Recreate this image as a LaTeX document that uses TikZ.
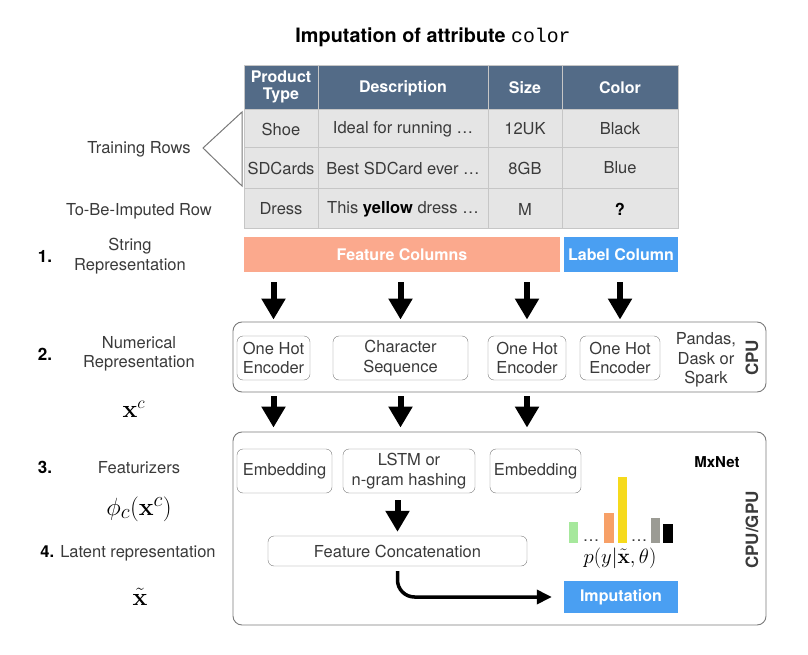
\documentclass[tikz,border=0pt]{standalone}
\usepackage{amsmath,amssymb}
\usepackage[no-math]{fontspec}
\setmainfont{TeX Gyre Heros}
\setmonofont{Liberation Mono}
\usetikzlibrary{arrows.meta,calc,positioning}

\definecolor{hdr}{HTML}{536B87}
\definecolor{cellgray}{HTML}{E5E5E5}
\definecolor{cellline}{HTML}{C6C6C6}
\definecolor{salmon}{HTML}{FBA98D}
\definecolor{skyblue}{HTML}{4A9FF2}
\definecolor{boxline}{HTML}{7A7A7A}
\definecolor{txtgray}{HTML}{3A3A3A}
\definecolor{bargreen}{HTML}{A6E89C}
\definecolor{barorange}{HTML}{F7A067}
\definecolor{baryellow}{HTML}{F6DA1C}
\definecolor{bargray}{HTML}{9B9B94}

\tikzset{
  lbl/.style={font=\fontsize{16.5}{19.5}\selectfont, text=txtgray, align=center},
  num/.style={font=\fontsize{17}{19}\selectfont\bfseries, text=black},
  cell/.style={lbl, text=txtgray},
  hcell/.style={font=\fontsize{16}{17}\selectfont\bfseries, text=white, align=center},
  mathlbl/.style={font=\fontsize{24}{28}\selectfont, inner sep=1pt},
  inbox/.style={lbl, draw=boxline, rounded corners=6pt, minimum height=44pt, inner sep=0pt},
  outbox/.style={draw=boxline, rounded corners=9pt, line width=0.9pt, inner sep=0pt},
  colbar/.style={font=\fontsize{16}{19}\selectfont\bfseries, text=white, minimum height=35pt, inner sep=0pt},
  fatarrow/.style={line width=6pt, -{Triangle[width=23pt,length=21pt]}},
}

\begin{document}
\begin{tikzpicture}[x=1pt, y=-1pt]
    \useasboundingbox(0,0)rectangle(808,655);
    % title
    \node[font=\fontsize{19.8}{22}\selectfont](title)at(433,37){\textbf{Imputation of attribute} \texttt{color}};
    % table
    \path[fill=hdr](244,65)rectangle(678,109);
    \path[fill=cellgray](244,109)rectangle(678,228);
    \foreach \y in {109,147,188} \path[draw=cellline](244,\y)to(678,\y);
    \foreach \x in {318,488,562} \path[draw=cellline](\x,65)to(\x,228);
    \path[draw=cellline](244,65)rectangle(678,228);
    % header
    \node[hcell](hType)at(281,87){Product\\Type};
    \node[hcell](hDesc)at(403,88){Description};
    \node[hcell](hSize)at(525,88){Size};
    \node[hcell](hColor)at(620,88){Color};
    % rows
    \node[cell](shoe)at(281,129){Shoe};
    \node[cell]at(403,129){Ideal for running \ldots};
    \node[cell]at(525,129){12UK};
    \node[cell]at(620,129){Black};
    \node[cell](sd)at(281,168){SDCards};
    \node[cell]at(403,168){Best SDCard ever \ldots};
    \node[cell]at(525,168){8GB};
    \node[cell]at(620,168){Blue};
    \node[cell](dress)at(281,209){Dress};
    \node[cell]at(403,209){This \textbf{\color{black}yellow} dress \ldots};
    \node[cell]at(525,209){M};
    \node[cell, text=black]at(620,209){\textbf{?}};
    % training rows
    \coordinate(T1)at(242,112);
    \coordinate(T2)at(203,148);
    \coordinate(T3)at(242,186);
    \path[draw=boxline, line width=1pt](T1)to(T2)to(T3)--cycle;
    \node[lbl](train)at(139,149){Training Rows};
    \node[lbl](imputed)at(139,211){To-Be-Imputed Row};
    % left column
    \node[num](n1)at(45,256){1.};
    \node[lbl](stringrep)at(130,256){String\\Representation};
    \node[num](n2)at(45,354){2.};
    \node[lbl](numrep)at(139,354){Numerical\\Representation};
    \node[mathlbl](xc)at(134,409){$\mathbf{x}^c$};
    \node[num](n3)at(45,467){3.};
    \node[lbl](featz)at(139,468){Featurizers};
    \node[mathlbl, font=\fontsize{28}{32}\selectfont](phi)at(139,509){$\phi_c(\mathbf{x}^c)$};
    \node[lbl](latent)at(128,553){{\color{black}\bfseries 4.} Latent representation};
    \node[mathlbl](xt)at(140,597){$\tilde{\mathbf{x}}$};
    % string representation
    \node[colbar, fill=salmon, minimum width=316pt](feat)at(402,254.5){Feature Columns};
    \node[colbar, fill=skyblue, minimum width=114pt](lab)at(621,254.5){Label Column};
    % CPU
    \node[outbox, minimum width=533pt, minimum height=70pt](cpu)at(499.5,357){};
    \node[inbox, minimum width=73pt](oh1)at(273.5,358){One Hot\\Encoder};
    \node[inbox, minimum width=135pt](cs)at(400.5,358){Character\\Sequence};
    \node[inbox, minimum width=78pt](oh2)at(527,358){One Hot\\Encoder};
    \node[inbox, minimum width=80pt](oh3)at(620,358){One Hot\\Encoder};
    \node[lbl](pandas)at(706,360){Pandas,\\Dask or\\Spark};
    \node[font=\fontsize{17}{19}\selectfont\bfseries, text=txtgray, rotate=90](cpulbl)at(752,358){CPU};
    \foreach \n in {oh1,cs,oh2,oh3}
        \path[draw, fatarrow]([yshift=-10pt]feat.south -| \n.center)to([yshift=2pt]cpu.north -| \n.center);
    % CPU/GPU
    \node[outbox, minimum width=533pt, minimum height=193pt](gpu)at(499.5,528.5){};
    \node[inbox, minimum width=95pt](emb1)at(284.5,471){Embedding};
    \node[inbox, minimum width=132pt](lstm)at(409,471){LSTM or\\n-gram hashing};
    \node[inbox, minimum width=91pt](emb2)at(535.5,471){Embedding};
    \node[font=\fontsize{15}{17}\selectfont\bfseries](mx)at(717,462){MxNet};
    \node[font=\fontsize{17}{19}\selectfont\bfseries, text=txtgray, rotate=90](gpulbl)at(752,530){CPU/GPU};
    \foreach \n in {oh1,cs,oh2}
        \path[draw, fatarrow]([yshift=-4pt]cpu.south -| \n.center)to([yshift=4pt]gpu.north -| \n.center);
    % concatenation
    \node[inbox, minimum width=259pt, minimum height=30pt](concat)at(397.5,551){Feature Concatenation};
    \path[draw, fatarrow]([yshift=-7pt]lstm.south -| concat.north)to([yshift=4pt]concat.north);
    % imputation
    \node[colbar, fill=skyblue, minimum width=114pt, minimum height=32pt](imp)at(621,597){Imputation};
    \path[draw, line width=3.5pt, rounded corners=17pt, -{Triangle[width=14pt,length=15pt]}]([yshift=-5pt]concat.south)|-([xshift=-12pt]imp.west);
    % bars
    \path[fill=bargreen](569,543)rectangle(578,522);
    \path[fill=barorange](604,543)rectangle(614,513);
    \path[fill=baryellow](618,543)rectangle(627,477);
    \path[fill=bargray](651,543)rectangle(660,518);
    \path[fill=black](663,543)rectangle(673,524);
    \node[lbl, inner sep=0pt, anchor=base, text height=2pt, text depth=0pt](dots1)at(591,541){\ldots};
    \node[lbl, inner sep=0pt, anchor=base, text height=2pt, text depth=0pt](dots2)at(639,541){\ldots};
    \node[mathlbl, font=\fontsize{21.5}{24}\selectfont, anchor=base](prob)at(620,563){$p(y|\tilde{\mathbf{x}},\theta)$};
\end{tikzpicture}
\end{document}
